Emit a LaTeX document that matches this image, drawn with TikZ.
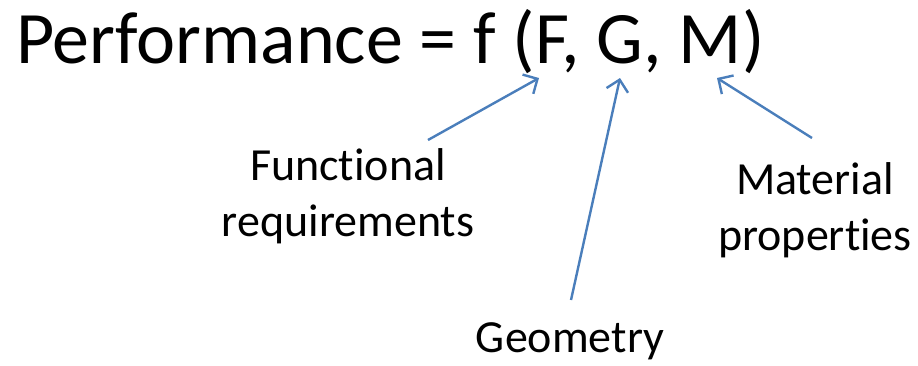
\documentclass[tikz,border=0pt]{standalone}
\usepackage{fontspec}
\setmainfont{Carlito}[Ligatures={NoCommon,NoContextual}]
\usetikzlibrary{arrows.meta}
\definecolor{arrowblue}{HTML}{4A7EBB}
\tikzset{
  title/.style={font=\fontsize{74}{88}\selectfont, inner sep=0pt, anchor=base west},
  lbl/.style={font=\fontsize{46}{56}\selectfont, inner sep=0pt, align=center},
  conn/.style={draw=arrowblue, line width=2.4pt, -{Straight Barb[length=11pt,width=22pt,line width=2.4pt]}}
}
\begin{document}
\begin{tikzpicture}[x=1pt,y=-1pt]
\useasboundingbox (0,0) rectangle (918,365);
\node[title] (eq) at (16,63) {Performance = f (F, G, M)};
\node[lbl, anchor=north] (fr) at (348,148) {Functional\\requirements};
\node[lbl, anchor=north] (mp) at (815,162) {Material\\properties};
\node[lbl, anchor=base] (geo) at (570,352) {Geometry};
\coordinate (fs) at (428,140);
\coordinate (ft) at (539,78);
\coordinate (gs) at (571,300);
\coordinate (gt) at (620,78);
\coordinate (ms) at (812,138);
\coordinate (mt) at (717,78);
\draw[conn] (fs) -- (ft);
\draw[conn] (gs) -- (gt);
\draw[conn] (ms) -- (mt);
\end{tikzpicture}
\end{document}
